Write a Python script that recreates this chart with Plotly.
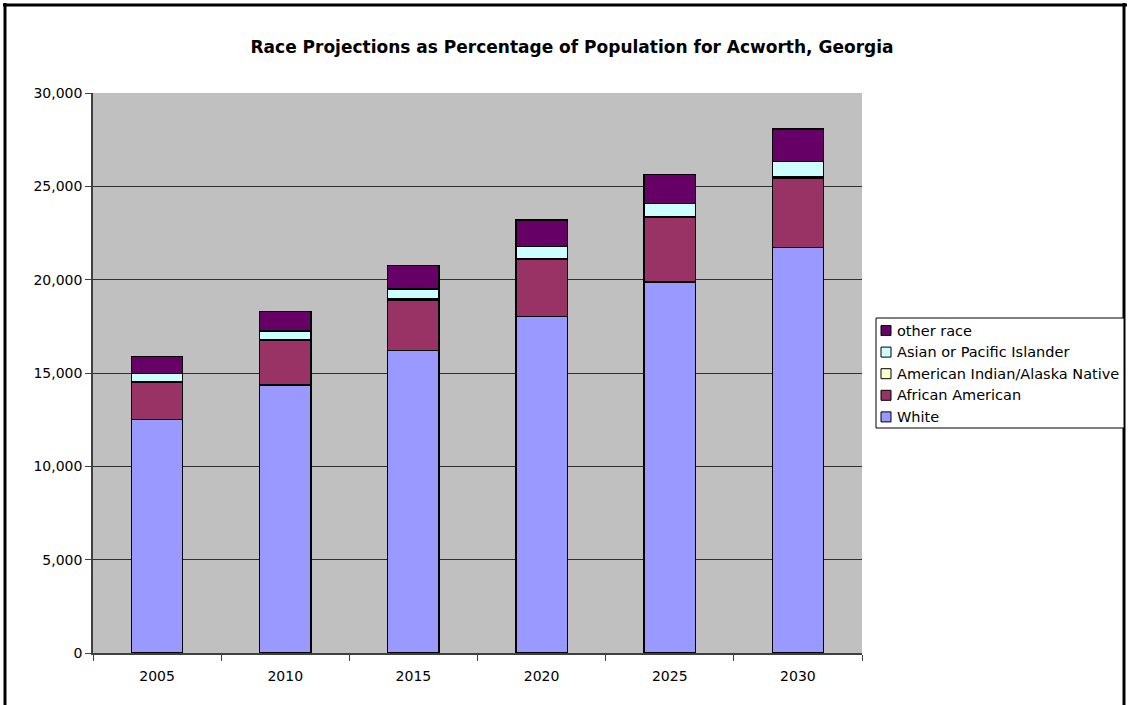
import plotly.graph_objects as go

years = ["2005", "2010", "2015", "2020", "2025", "2030"]
white = [12520, 14360, 16200, 18040, 19880, 21730]
african_american = [1995, 2380, 2715, 3050, 3435, 3720]
american_indian = [40, 45, 50, 55, 60, 65]
asian_pacific = [430, 465, 535, 645, 715, 805]
other_race = [890, 1050, 1250, 1410, 1555, 1750]

series = [
    ("White", white, "#9999FF"),
    ("African American", african_american, "#993366"),
    ("American Indian/Alaska Native", american_indian, "#FFFFCC"),
    ("Asian or Pacific Islander", asian_pacific, "#CCFFFF"),
    ("other race", other_race, "#660066"),
]

W, H = 1128, 705
L, R, T, B = 93, 266, 93, 52
pw, ph = W - L - R, H - T - B

font = "DejaVu Sans, Verdana, sans-serif"

fig = go.Figure()
for name, vals, col in series:
    fig.add_trace(go.Bar(
        x=years, y=vals, name=name,
        marker=dict(color=col, line=dict(color="#000000", width=1.4)),
        showlegend=False,
    ))


def px_x(px):
    return (px - L) / pw


def px_y(py):
    return (H - B - py) / ph


shapes = [
    dict(type="line", xref="paper", yref="paper", x0=px_x(5), x1=px_x(5), y0=px_y(3), y1=px_y(710),
         line=dict(color="black", width=3)),
    dict(type="line", xref="paper", yref="paper", x0=px_x(3), x1=px_x(1127), y0=px_y(5), y1=px_y(5),
         line=dict(color="black", width=3)),
    dict(type="line", xref="paper", yref="paper", x0=px_x(1124), x1=px_x(1124), y0=px_y(3), y1=px_y(710),
         line=dict(color="black", width=3)),
]

annotations = []
# manual legend (Excel style): box, small squares, labels; top entry = last series
leg_left, leg_right, leg_top, leg_bottom = 876, 1124, 318, 428
shapes.append(dict(type="rect", xref="paper", yref="paper",
                   x0=px_x(leg_left), x1=px_x(leg_right), y0=px_y(leg_bottom), y1=px_y(leg_top),
                   line=dict(color="black", width=1), fillcolor="white", layer="above"))
row_h = 21.6
first_c = 330.5
for i, (name, vals, col) in enumerate(reversed(series)):
    cy = first_c + i * row_h
    shapes.append(dict(type="rect", xref="paper", yref="paper",
                       x0=px_x(881), x1=px_x(891), y0=px_y(cy + 5), y1=px_y(cy - 5),
                       line=dict(color="black", width=1), fillcolor=col, layer="above"))
    annotations.append(dict(text=name, xref="paper", yref="paper",
                            x=px_x(895), y=px_y(cy), xanchor="left", yanchor="middle",
                            showarrow=False, font=dict(family=font, size=14.5, color="black")))

fig.update_layout(
    width=W, height=H,
    margin=dict(l=L, r=R, t=T, b=B),
    barmode="stack",
    bargap=0.6,
    paper_bgcolor="white",
    plot_bgcolor="#C0C0C0",
    font=dict(family=font, size=14, color="black"),
    title=dict(text="<b>Race Projections as Percentage of Population for Acworth, Georgia</b>",
               x=572 / W, xanchor="center", y=1 - 47 / H, yanchor="middle",
               font=dict(family=font, size=17, color="black")),
    showlegend=False,
    shapes=shapes,
    annotations=annotations,
)

fig.update_xaxes(
    type="category",
    showline=True, linecolor="#404040", linewidth=1.5,
    ticks="outside", tickson="boundaries", ticklen=6, tickcolor="#404040",
    ticklabelstandoff=9,
    showgrid=False,
    tickfont=dict(family=font, size=14, color="black"),
)
fig.update_yaxes(
    range=[0, 30000], dtick=5000, tickformat=",",
    showline=True, linecolor="#404040", linewidth=1.5,
    ticks="outside", ticklen=6, tickcolor="#404040",
    showgrid=True, gridcolor="#303030", gridwidth=1,
    zeroline=False,
    tickfont=dict(family=font, size=14, color="black"),
)

fig.write_html("out.html")
